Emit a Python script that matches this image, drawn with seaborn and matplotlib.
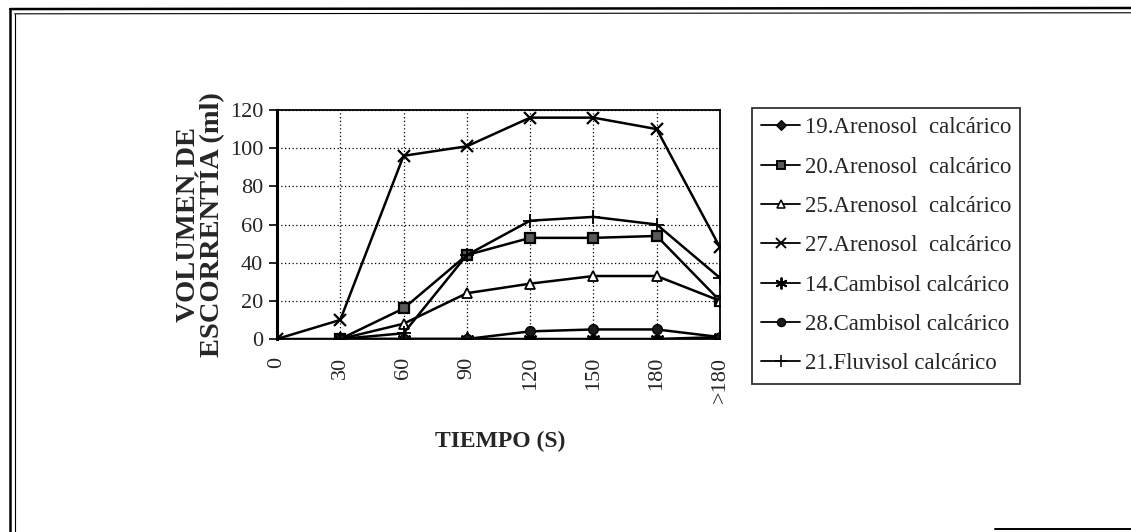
import numpy as np
import pandas as pd
import matplotlib
matplotlib.use("Agg")
import matplotlib.pyplot as plt
import seaborn as sns
from matplotlib.lines import Line2D

# Runoff volume (ml) for each soil profile over time
tiempo = ["0", "30", "60", "90", "120", "150", "180", ">180"]
s19_arenosol = [np.nan, 0, 0, 0, 0, 0, 0, 0]
s20_arenosol = [np.nan, 0, 16, 44, 53, 53, 54, 20]
s25_arenosol = [np.nan, 0, 8, 24, 29, 33, 33, 20]
s27_arenosol = [0, 10, 96, 101, 116, 116, 110, 48]
s14_cambisol = [np.nan, 0, 0, 0, 0, 0, 0, 1]
s28_cambisol = [np.nan, 0, 0, 0, 4, 5, 5, 1]
s21_fluvisol = [0, 0, 3, 44, 62, 64, 60, 32]

series_names = [
    "19.Arenosol  calcárico",
    "20.Arenosol  calcárico",
    "25.Arenosol  calcárico",
    "27.Arenosol  calcárico",
    "14.Cambisol calcárico",
    "28.Cambisol calcárico",
    "21.Fluvisol calcárico",
]
series_values = [s19_arenosol, s20_arenosol, s25_arenosol, s27_arenosol,
                 s14_cambisol, s28_cambisol, s21_fluvisol]

asterisk = (6, 2, 0)
styles = [
    dict(marker="D", ms=6, mfc="k", mew=1.0),
    dict(marker="s", ms=7, mfc="0.35", mew=1.6),
    dict(marker="^", ms=7, mfc="white", mew=1.3),
    dict(marker="x", ms=8, mfc="k", mew=1.6),
    dict(marker=asterisk, ms=10, mfc="k", mew=1.6),
    dict(marker="o", ms=7, mfc="k", mew=1.0),
    dict(marker="+", ms=10, mfc="k", mew=1.3),
]

sns.set_theme(style="white")
plt.rcParams["font.family"] = ["Liberation Serif", "DejaVu Serif"]

fig = plt.figure(figsize=(11.31, 5.32), dpi=100)
ax = fig.add_axes([0.2449, 0.3628, 0.3917, 0.4304])

pos = np.arange(len(tiempo))
handles = []
for name, vals, st in zip(series_names, series_values, styles):
    df = pd.DataFrame({"x": pos, "y": vals}).dropna()
    sns.lineplot(data=df, x="x", y="y", ax=ax, color="black", lw=1.8,
                 marker=st["marker"], markersize=st["ms"],
                 markerfacecolor=st["mfc"], markeredgecolor="black",
                 markeredgewidth=st["mew"], legend=False)
    handles.append(Line2D([0], [0], color="black", lw=1.3,
                          marker=st["marker"], markersize=st["ms"] * 0.85,
                          markerfacecolor=st["mfc"], markeredgecolor="black",
                          markeredgewidth=st["mew"] * 0.85))

ax.set_xlim(0, len(tiempo) - 1)
ax.set_ylim(0, 120)
ax.set_xticks(pos)
ax.set_xticklabels(tiempo, rotation=90, fontsize=16)
ax.set_yticks(np.arange(0, 121, 20))
ax.tick_params(axis="y", labelsize=16, direction="out", length=6, width=1.2,
               left=True, color="black", pad=4)
ax.tick_params(axis="x", direction="out", length=0, pad=13)
ax.grid(True, color="black", linestyle=(0, (1, 2)), linewidth=0.9)
for side, sp in ax.spines.items():
    sp.set_visible(True)
    sp.set_color("black")
    sp.set_linewidth(1.3)
ax.spines["left"].set_linewidth(2.2)
ax.set_xlabel("")
ax.set_ylabel("VOLUMEN DE\nESCORRENTÍA (ml)", fontsize=20.5, fontweight="bold",
              linespacing=0.8, labelpad=3)

fig.text(0.442, 0.17, "TIEMPO (S)", fontsize=17, fontweight="bold",
         ha="center", va="center")

leg = fig.legend(handles, series_names, loc="upper left",
                 bbox_to_anchor=(0.665, 0.797), frameon=True, fontsize=16.5,
                 handlelength=1.7, handletextpad=0.2, labelspacing=0.8,
                 borderpad=0.4, borderaxespad=0, fancybox=False)
leg.get_frame().set_edgecolor("black")
leg.get_frame().set_linewidth(1.3)

# Outer frame of the figure
frame_kw = dict(color="black", transform=fig.transFigure, lw=1.8)
fig.add_artist(Line2D([0.009, 1.0], [0.983, 0.985], **frame_kw))
fig.add_artist(Line2D([0.013, 1.0], [0.974, 0.976], color="black",
                      transform=fig.transFigure, lw=0.8))
fig.add_artist(Line2D([0.009, 0.009], [0.0, 0.983], **frame_kw))
fig.add_artist(Line2D([0.013, 0.013], [0.0, 0.974], color="black",
                      transform=fig.transFigure, lw=0.8))
fig.add_artist(Line2D([0.88, 1.0], [0.006, 0.006], color="black",
                      transform=fig.transFigure, lw=1.4))

fig.savefig("out.png", dpi=100, facecolor="white")
